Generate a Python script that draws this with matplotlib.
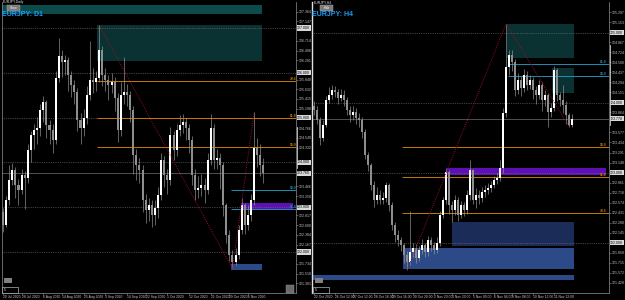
import numpy as np
import matplotlib
matplotlib.use('Agg')
import matplotlib.pyplot as plt
from matplotlib.patches import Rectangle

W, H = 625, 300
plt.rcParams['font.family'] = ['Liberation Sans', 'DejaVu Sans']

# ---------------- EURJPY D1 (left) ----------------
d1_open = [122.90, 122.60, 123.16, 123.61, 123.83, 123.50, 123.38, 123.72, 123.65, 124.28,
           124.61, 124.72, 124.77, 125.17, 125.35, 124.83, 124.72, 124.50, 125.88, 126.37,
           126.24, 126.29, 125.95, 125.73, 125.57, 124.95, 124.77, 124.99, 125.50, 125.84,
           125.79, 125.88, 126.51, 125.95, 125.84, 125.73, 125.79, 125.44, 124.72, 125.50,
           125.57, 125.50, 125.17, 124.16, 123.94, 123.83, 123.16, 122.94, 123.05, 122.83,
           122.98, 123.27, 124.05, 123.72, 123.61, 124.61, 124.28, 124.72, 124.83, 124.90,
           124.77, 124.50, 123.72, 123.38, 123.43, 123.50, 123.38, 124.05, 124.77, 124.05,
           124.10, 123.94, 123.05, 122.38, 121.93, 121.78, 121.93, 122.49, 123.05, 122.60,
           122.83, 123.16, 124.32, 124.16, 123.94]
d1_close = [122.60, 123.16, 123.61, 123.83, 123.50, 123.38, 123.72, 123.65, 124.28, 124.61,
            124.72, 124.77, 125.17, 125.35, 124.83, 124.72, 124.50, 125.88, 126.37, 126.24,
            126.29, 125.95, 125.73, 125.57, 124.95, 124.77, 124.99, 125.50, 125.84, 125.79,
            125.88, 126.51, 125.95, 125.84, 125.73, 125.79, 125.44, 124.72, 125.50, 125.57,
            125.50, 125.17, 124.16, 123.94, 123.83, 123.16, 122.94, 123.05, 122.83, 122.98,
            123.27, 124.05, 123.72, 123.61, 124.61, 124.28, 124.72, 124.83, 124.90, 124.77,
            124.50, 123.72, 123.38, 123.43, 123.50, 123.38, 124.05, 124.77, 124.05, 124.10,
            123.94, 123.05, 122.38, 121.93, 121.78, 121.93, 122.49, 123.05, 122.60, 122.83,
            123.16, 124.32, 124.16, 123.94, 123.76]
d1_high = [122.98, 123.25, 123.95, 123.98, 123.90, 123.62, 123.85, 123.80, 124.40, 124.70,
           124.85, 125.02, 125.30, 125.48, 125.40, 124.95, 124.85, 126.05, 126.78, 126.50,
           126.40, 126.35, 126.05, 125.85, 125.65, 125.10, 125.20, 125.70, 126.70, 126.10,
           126.05, 127.07, 126.60, 126.10, 125.95, 126.00, 125.90, 125.55, 125.80, 126.35,
           125.75, 125.60, 125.25, 124.30, 124.10, 123.95, 123.30, 123.20, 123.15, 123.15,
           123.45, 124.20, 124.15, 123.85, 124.80, 124.70, 124.85, 125.05, 125.08, 125.00,
           124.85, 124.60, 123.85, 123.70, 123.75, 123.65, 124.20, 125.08, 124.85, 124.30,
           124.20, 124.00, 123.10, 122.50, 122.05, 122.10, 122.60, 123.20, 123.10, 123.05,
           123.30, 125.13, 124.55, 124.40, 124.10]
d1_low = [122.45, 122.55, 123.05, 123.50, 123.20, 123.05, 123.30, 122.95, 123.55, 124.00,
          124.30, 124.40, 124.60, 124.90, 124.55, 124.40, 124.20, 124.40, 125.80, 125.90,
          125.95, 125.60, 125.45, 125.30, 124.70, 124.40, 124.60, 124.85, 125.40, 125.55,
          125.60, 125.80, 125.70, 125.60, 125.40, 125.55, 125.15, 124.45, 124.60, 125.30,
          125.25, 124.90, 123.75, 123.60, 123.55, 122.90, 122.65, 122.70, 122.55, 122.60,
          122.75, 123.15, 123.45, 123.30, 123.50, 124.05, 124.15, 124.60, 124.65, 124.50,
          124.20, 123.50, 123.15, 123.20, 123.25, 123.10, 123.30, 123.95, 123.85, 123.85,
          123.40, 122.80, 122.20, 121.80, 121.62, 121.70, 121.85, 122.40, 122.40, 122.50,
          122.70, 123.05, 123.90, 123.70, 123.55]
d1_date_pos = [0, 6, 13, 19, 26, 33, 40, 46, 53, 60, 67, 73, 79]
d1_dates = ['20 Jul 2020', '28 Jul 2020', '6 Aug 2020', '14 Aug 2020', '25 Aug 2020',
            '3 Sep 2020', '14 Sep 2020', '22 Sep 2020', '1 Oct 2020', '12 Oct 2020',
            '21 Oct 2020', '29 Oct 2020', '6 Nov 2020']
d1_round = [127.0, 126.0, 125.0, 124.0, 123.0, 122.0]
d1_last = 123.76
d1_swing_x = [31, 74, 81]
d1_swing_y = [127.07, 121.62, 125.13]
d1_orange = [125.82, 125.00, 124.34]
d1_orange_tag = ['78.6', '61.8', '50.0']
d1_cyan = [123.38, 122.96]
d1_cyan_tag = ['50.0', '61.8']
# zones: bar start, bar end, price low, price high
d1_band = (-1.0, 83.5, 127.31, 127.51)
d1_supply = (30.3, 83.5, 126.26, 127.07)
d1_purple = (76.8, 93.5, 122.96, 123.09)
d1_demand = (73.5, 83.5, 121.60, 121.73)

# ---------------- EURJPY H4 (right) ----------------
h4_open = [123.95, 123.90, 123.76, 123.50, 123.69, 124.04, 124.11, 124.19, 124.16, 124.07,
           124.11, 124.04, 123.90, 123.83, 123.87, 123.79, 123.76, 123.59, 123.26, 123.11,
           122.83, 122.61, 122.69, 122.61, 122.64, 122.83, 122.54, 122.26, 122.11, 122.04,
           121.97, 121.83, 121.73, 121.87, 121.93, 121.79, 121.90, 121.97, 121.87, 122.04,
           121.97, 121.90, 122.00, 122.40, 122.61, 123.01, 122.54, 122.47, 122.61, 122.40,
           122.54, 122.47, 122.69, 123.04, 122.61, 122.69, 122.64, 122.73, 122.76, 122.79,
           122.83, 122.90, 122.93, 123.07, 123.86, 124.51, 124.69, 124.59, 124.19, 124.33,
           124.21, 124.40, 124.26, 124.33, 124.19, 124.11, 124.26, 124.04, 124.11, 123.87,
           123.93, 124.47, 124.11, 124.04, 123.97, 123.83, 123.69]
h4_close = [123.90, 123.76, 123.50, 123.69, 124.04, 124.11, 124.19, 124.16, 124.07, 124.11,
            124.04, 123.90, 123.83, 123.87, 123.79, 123.76, 123.59, 123.26, 123.11, 122.83,
            122.61, 122.69, 122.61, 122.64, 122.83, 122.54, 122.26, 122.11, 122.04, 121.97,
            121.83, 121.73, 121.87, 121.93, 121.79, 121.90, 121.97, 121.87, 122.04, 121.97,
            121.90, 122.00, 122.40, 122.61, 123.01, 122.54, 122.47, 122.61, 122.40, 122.54,
            122.47, 122.69, 123.04, 122.61, 122.69, 122.64, 122.73, 122.76, 122.79, 122.83,
            122.90, 122.93, 123.07, 123.86, 124.51, 124.69, 124.59, 124.19, 124.33, 124.21,
            124.40, 124.26, 124.33, 124.19, 124.11, 124.26, 124.04, 124.11, 123.87, 123.93,
            124.47, 124.11, 124.04, 123.97, 123.83, 123.69, 123.77]
h4_high = [124.02, 123.95, 123.80, 123.75, 124.10, 124.22, 124.26, 124.24, 124.20, 124.20,
           124.18, 124.08, 123.96, 123.95, 123.92, 123.86, 123.80, 123.62, 123.30, 123.14,
           122.88, 122.80, 122.75, 122.72, 122.87, 122.86, 122.58, 122.30, 122.18, 122.08,
           122.00, 121.88, 122.45, 122.00, 121.98, 121.96, 122.05, 122.00, 122.10, 122.08,
           122.02, 122.08, 122.45, 122.66, 123.05, 123.04, 122.60, 122.68, 122.65, 122.60,
           122.58, 122.75, 123.19, 123.06, 122.78, 122.75, 122.80, 122.82, 122.85, 122.88,
           122.96, 123.00, 123.18, 123.92, 125.13, 124.76, 124.75, 124.62, 124.42, 124.38,
           124.48, 124.45, 124.40, 124.37, 124.24, 124.32, 124.30, 124.18, 124.14, 124.00,
           124.52, 124.50, 124.16, 124.25, 124.02, 123.86, 123.84]
h4_low = [123.82, 123.70, 123.40, 123.45, 123.65, 124.00, 124.05, 124.08, 123.98, 124.02,
          123.95, 123.82, 123.72, 123.75, 123.70, 123.66, 123.50, 123.20, 123.02, 122.75,
          122.52, 122.55, 122.55, 122.56, 122.58, 122.45, 122.18, 122.02, 121.95, 121.88,
          121.72, 121.61, 121.68, 121.80, 121.72, 121.74, 121.84, 121.80, 121.82, 121.88,
          121.84, 121.85, 121.95, 122.35, 122.55, 122.42, 122.30, 122.40, 122.32, 122.35,
          122.38, 122.42, 122.62, 122.55, 122.50, 122.55, 122.58, 122.66, 122.70, 122.72,
          122.78, 122.84, 122.88, 123.00, 123.80, 124.40, 124.45, 124.10, 124.12, 124.10,
          124.15, 124.18, 124.20, 124.05, 123.98, 124.05, 123.88, 123.95, 123.66, 123.80,
          123.88, 124.02, 123.95, 123.85, 123.70, 123.66, 123.65]
h4_date_pos = [0, 7, 13, 20, 26, 33, 40, 46, 53, 60, 66, 73, 80]
h4_dates = ['22 Oct 2020', '26 Oct 12:00', '27 Oct 12:00', '28 Oct 16:00', '29 Oct 16:00',
            '30 Oct 20:00', '2 Nov 20:00', '3 Nov 20:00', '5 Nov 00:00', '6 Nov 04:00',
            '9 Nov 08:00', '10 Nov 12:00', '11 Nov 12:00']
h4_round = [125.0, 124.0, 123.0, 122.0]
h4_last = 123.77
h4_swing_x = [31, 64, 85]
h4_swing_y = [121.61, 125.13, 123.66]
h4_cyan = [124.56, 124.39]
h4_cyan_tag = ['61.8', '50.0']
h4_orange = [123.37, 122.94, 122.43]
h4_orange_tag = ['50.0', '61.8', '78.6']
h4_supply = [(64.3, 86.7, 124.64, 125.13), (79.3, 86.7, 124.14, 124.50)]
h4_purple = (44.0, 97.3, 122.97, 123.07)
h4_demand_dark = (46.0, 86.7, 121.96, 122.30)
h4_demand = (29.7, 86.7, 121.63, 121.93)
h4_band = (-0.7, 86.7, 121.47, 121.54)

BG = 'black'
TXT = '#c8c8c8'


def px_axes(fig, x0, y0, x1, y1):
    return fig.add_axes([x0 / W, 1 - y1 / H, (x1 - x0) / W, (y1 - y0) / H])


def zone(ax, z, color):
    x0, x1, lo, hi = z
    ax.add_patch(Rectangle((x0, lo), x1 - x0, hi - lo, facecolor=color, edgecolor='none', zorder=1))


def candles(ax, o, h, l, c, width):
    o, h, l, c = map(np.asarray, (o, h, l, c))
    x = np.arange(len(o))
    ax.vlines(x, l, h, color='#9a9a9a', lw=0.45, zorder=3)
    bull = c >= o
    body = np.maximum(np.abs(c - o), 0.015)
    bottom = np.minimum(o, c)
    ax.bar(x[bull], body[bull], width, bottom=bottom[bull], color='#ffffff', lw=0, zorder=4)
    ax.bar(x[~bull], body[~bull], width, bottom=bottom[~bull], color='#8e8e8e', lw=0, zorder=4)


def style_axis(ax, ylo, yhi, nticks, boxed, date_pos, dates):
    ax.set_facecolor(BG)
    ax.set_ylim(ylo, yhi)
    ax.yaxis.tick_right()
    ticks = np.linspace(ylo, yhi, nticks)[1:-1]
    gap = (yhi - ylo) / 291 * 6
    ticks = [t for t in ticks if min(abs(t - b) for b in boxed) > gap]
    ax.set_yticks(ticks)
    ax.set_yticklabels([f'{t:.3f}' for t in ticks])
    ax.tick_params(axis='y', colors='#909090', labelcolor=TXT, labelsize=2.5, length=1.2,
                   width=0.4, pad=0.6)
    ax.set_xticks(date_pos)
    ax.set_xticklabels(dates, ha='left')
    ax.tick_params(axis='x', colors='#909090', labelcolor=TXT, labelsize=2.4, length=1.2,
                   width=0.4, pad=0.4)
    for s in ax.spines.values():
        s.set_color('#909090')
        s.set_linewidth(0.5)
    ax.spines['top'].set_visible(False)


def levels(ax, rounds, last):
    for r in rounds:
        ax.axhline(r, color='#7a7a7a', lw=0.5, ls=(0, (1, 1.6)), zorder=2)
    ax.axhline(last, color='#505050', lw=0.7, zorder=2)
    for r in rounds + [last]:
        ax.text(1.004, r, f'{r:.3f}', transform=ax.get_yaxis_transform(), fontsize=2.5,
                color='black', va='center', ha='left',
                bbox=dict(boxstyle='square,pad=0.15', fc='#d8d8d8', ec='none'))


def fib_lines(ax, x0, prices, tags, color, tag_x):
    x1 = ax.get_xlim()[1]
    for p, t in zip(prices, tags):
        ax.hlines(p, x0, x1, color=color, lw=0.7, zorder=2)
        ax.text(tag_x, p, t, transform=ax.get_yaxis_transform(), fontsize=2.4, color=color,
                va='bottom', ha='left', fontweight='bold', zorder=6)


fig = plt.figure(figsize=(W / 100, H / 100), dpi=100, facecolor=BG)

# ---- left: daily ----
axl = px_axes(fig, 2, 2, 296, 293)
axl.set_xlim(-0.32, 94.5)
style_axis(axl, 121.085, 127.58, 31, d1_round + [d1_last], d1_date_pos, d1_dates)
zone(axl, d1_band, '#0b4b4b')
zone(axl, d1_supply, '#0a3232')
zone(axl, d1_purple, '#5e10b4')
zone(axl, d1_demand, '#2c4a88')
levels(axl, d1_round, d1_last)
fib_lines(axl, 30.3, d1_orange, d1_orange_tag, '#c87a00', 0.978)
fib_lines(axl, 73.5, d1_cyan, d1_cyan_tag, '#1c8fb8', 0.978)
axl.plot(d1_swing_x, d1_swing_y, color='#9b1020', lw=0.7, ls=(0, (1, 1.3)), zorder=5)
candles(axl, d1_open, d1_high, d1_low, d1_close, 0.65)

# ---- right: H4 ----
axr = px_axes(fig, 312, 2, 609, 293)
axr.set_xlim(-0.67, 98.3)
style_axis(axr, 121.285, 125.44, 30, h4_round + [h4_last], h4_date_pos, h4_dates)
axr.spines['left'].set_color('#e0e0e0')
axr.spines['left'].set_linewidth(1.0)
for z in h4_supply:
    zone(axr, z, '#0a3232')
zone(axr, h4_purple, '#5e10b4')
zone(axr, h4_demand_dark, '#1b2c58')
zone(axr, h4_demand, '#2c4a88')
zone(axr, h4_band, '#2c4a88')
levels(axr, h4_round, h4_last)
fib_lines(axr, 64.7, h4_cyan, h4_cyan_tag, '#1c8fb8', 0.968)
fib_lines(axr, 29.3, h4_orange, h4_orange_tag, '#c87a00', 0.968)
axr.plot(h4_swing_x, h4_swing_y, color='#9b1020', lw=0.7, ls=(0, (1, 1.3)), zorder=5)
candles(axr, h4_open, h4_high, h4_low, h4_close, 0.67)

# ---- chart furniture (pixel overlay) ----
ov = fig.add_axes([0, 0, 1, 1], zorder=10)
ov.set_xlim(0, W)
ov.set_ylim(H, 0)
ov.axis('off')
ov.patch.set_alpha(0)


def button(x, y, w, h, label):
    ov.add_patch(Rectangle((x, y), w, h, facecolor='#7a7a7a', edgecolor='#aaaaaa', lw=0.3))
    ov.text(x + w / 2, y + h / 2, label, fontsize=2.2, color='white', ha='center', va='center')


for x0, name, tf, btn, bx in [(3, 'EURJPY,Daily', 'EURJPY: D1', 'Show', 7),
                              (314, 'EURJPY,H4', 'EURJPY: H4', 'Hide', 320)]:
    ov.text(x0, 2.5, name, fontsize=2.4, color='#e0e0e0', va='center', ha='left')
    button(bx, 5, 13, 6, btn)
    ov.text(x0 - 1.5, 14.5, tf, fontsize=5, color='#1aa0ff', fontweight='bold',
            va='center', ha='left')
    ov.add_patch(Rectangle((x0 + 1, 278), 8, 5, facecolor='#808080', edgecolor='none'))
    ov.add_patch(Rectangle((x0 - 1, 287), 16, 6, facecolor='black', edgecolor='#e0e0e0', lw=0.4))
    ov.text(x0 + 0.5, 290, '5', fontsize=2.4, color='white', va='center', ha='left')

ov.add_patch(Rectangle((286, 285), 8, 8, facecolor='#6a6a6a', edgecolor='#9a9a9a', lw=0.3))
ov.plot([296.5, 296.5], [127, 168], color='#d0d0d0', lw=0.6)
ov.plot([609.5, 609.5], [45, 125], color='#d0d0d0', lw=0.6)

fig.savefig('out.png', dpi=100, facecolor=BG)
